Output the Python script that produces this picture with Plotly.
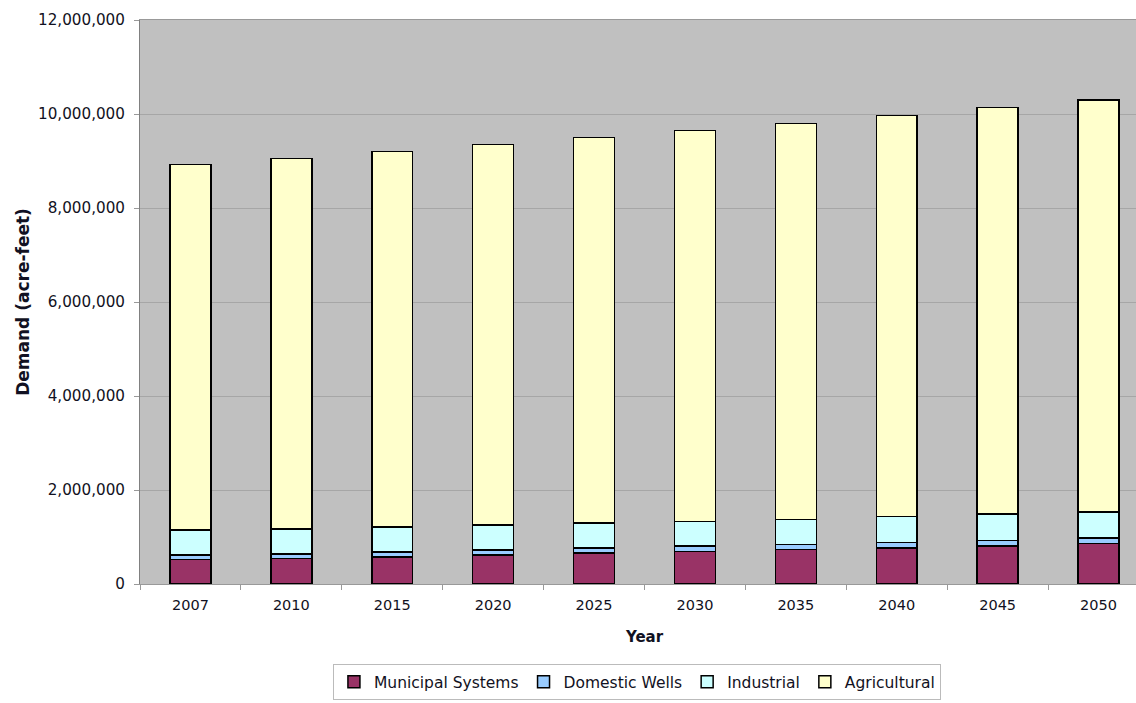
import plotly.graph_objects as go

years = ["2007", "2010", "2015", "2020", "2025", "2030", "2035", "2040", "2045", "2050"]
municipal = [520000, 540000, 575000, 615000, 655000, 695000, 730000, 770000, 810000, 860000]
domestic = [95000, 100000, 105000, 105000, 110000, 110000, 115000, 115000, 120000, 120000]
industrial = [535000, 535000, 535000, 535000, 530000, 530000, 530000, 550000, 555000, 550000]
agricultural = [7780000, 7875000, 7985000, 8100000, 8205000, 8315000, 8425000, 8535000, 8655000, 8770000]

series = [
    ("Municipal Systems", municipal, "#993366"),
    ("Domestic Wells", domestic, "#99CCFF"),
    ("Industrial", industrial, "#CCFFFF"),
    ("Agricultural", agricultural, "#FFFFCC"),
]

fig = go.Figure()
for name, vals, col in series:
    fig.add_trace(go.Bar(
        x=years, y=vals, name=name,
        marker=dict(color=col, line=dict(color="#000000", width=1.5)),
    ))

FONT = "DejaVu Sans, Arial, sans-serif"

fig.update_layout(
    barmode="stack",
    bargap=0.594,
    width=1152, height=703,
    margin=dict(l=140, r=3, t=20, b=95),
    paper_bgcolor="white",
    plot_bgcolor="#C0C0C0",
    font=dict(family=FONT, size=14, color="#111122"),
    legend=dict(
        orientation="h", x=0.4925, xanchor="center", y=-0.142, yanchor="top",
        bordercolor="#BBBBBB", borderwidth=1, bgcolor="white",
        font=dict(size=15.5), traceorder="normal",
        itemwidth=30,
    ),
    xaxis=dict(
        title=dict(text="<b>Year</b>", font=dict(size=15), standoff=19),
        ticks="outside", tickson="boundaries", ticklen=5, tickcolor="#999999",
        showline=True, linecolor="#999999", linewidth=1, mirror=True,
        tickfont=dict(size=14.5), automargin=False, ticklabelstandoff=8,
    ),
    yaxis=dict(
        title=dict(text="<b>Demand (acre-feet)</b>", font=dict(size=17), standoff=4),
        range=[0, 12000000], dtick=2000000, tickformat=",d",
        showgrid=True, gridcolor="#A6A6A6", gridwidth=1,
        ticks="outside", ticklen=5, tickcolor="#999999",
        showline=True, linecolor="#808080", linewidth=1, mirror=True,
        tickfont=dict(size=15.2), zeroline=False, automargin=False,
        ticklabelstandoff=6,
    ),
)

fig.write_html(
    "out.html",
    config={"displayModeBar": False, "responsive": False},
    post_script=(
        "document.body.style.margin='0';"
        "document.body.style.overflow='hidden';"
        "document.documentElement.style.overflow='hidden';"
    ),
)
